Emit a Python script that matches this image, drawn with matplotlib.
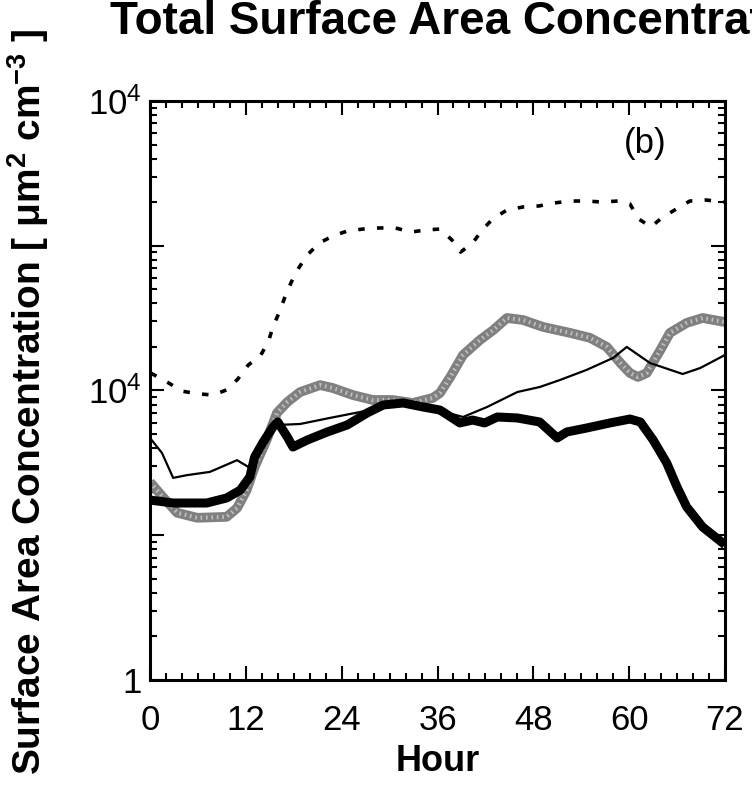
import matplotlib
matplotlib.use("Agg")
import matplotlib.pyplot as plt
from matplotlib.ticker import FixedLocator, FixedFormatter, LogLocator, NullFormatter, MultipleLocator

plt.rcParams["font.family"] = ["Liberation Sans", "DejaVu Sans"]
plt.rcParams["mathtext.fontset"] = "custom"
plt.rcParams["mathtext.rm"] = "Liberation Sans"
plt.rcParams["mathtext.bf"] = "Liberation Sans:bold"
plt.rcParams["mathtext.it"] = "Liberation Sans:italic"

# hours and surface area concentration (um^2 cm^-3) for each run
dotted_hours = [0.1, 2.3, 4.0, 5.9, 7.9, 9.6, 11.0, 12.3, 13.8, 14.8, 15.4, 16.2, 16.9, 17.7,
                18.7, 19.7, 21.2, 22.9, 24.7, 26.7, 28.7, 30.7, 32.7, 34.6, 36.3, 37.8, 38.9,
                40.4, 41.6, 42.9, 44.7, 46.7, 48.7, 50.6, 52.6, 54.6, 56.6, 58.6, 60.1, 61.2,
                62.7, 64.1, 65.9, 67.6, 69.6, 72.0]
dotted_vals = [132, 113, 99, 95, 93, 101, 120, 150, 173, 216, 275, 349, 443, 562,
               713, 863, 1045, 1168, 1264, 1305, 1327, 1327, 1245, 1285, 1305, 1097, 905,
               1045, 1285, 1531, 1766, 1853, 1883, 1974, 2037, 2037, 2005, 2037, 1942, 1531,
               1350, 1556, 1795, 2037, 2070, 2005]

thin_hours = [0.0, 1.5, 2.9, 4.6, 7.5, 10.9, 11.9, 12.5, 13.5, 14.8, 16.0, 18.8, 22.5, 26.3,
              30.1, 33.8, 36.9, 39.2, 42.2, 46.0, 48.8, 51.3, 54.7, 58.0, 59.7, 62.6, 66.7,
              68.9, 72.0]
thin_vals = [47, 37, 24.9, 26, 27.4, 33, 30.6, 29.2, 35.8, 47.7, 57.8, 58.7, 64.6, 71.0,
             79.4, 79.4, 71.0, 65.6, 76.9, 97.6, 105.7, 118, 139, 168, 200, 155, 130,
             143, 176]

thick_hours = [0.0, 2.9, 7.1, 9.6, 11.3, 12.5, 13.1, 14.1, 15.4, 16.0, 17.2, 17.9, 19.7, 22.2,
               24.7, 27.2, 29.2, 31.7, 34.2, 36.3, 36.7, 38.8, 40.4, 41.9, 43.5, 46.0, 48.8,
               51.0, 52.2, 54.7, 57.6, 60.1, 61.4, 63.0, 64.7, 66.0, 67.2, 69.2, 72.0]
thick_vals = [17.5, 16.7, 16.7, 18.1, 20.5, 25.3, 34.7, 43.4, 56, 60.6, 47.7, 40.7, 45.5, 51.7,
              57.8, 70, 79.4, 82, 76.9, 73.3, 71, 59.7, 62.5, 59.7, 65.6, 64.6, 60.6,
              47, 51.7, 55.1, 59.7, 63.5, 60.6, 45.5, 31.6, 21.5, 15.7, 11.4, 8.6]

gray_hours = [0.0, 1.6, 3.4, 5.9, 9.6, 10.9, 12.1, 13.1, 14.6, 15.9, 17.2, 18.8, 21.3, 22.9,
              25.4, 27.9, 30.4, 32.9, 35.4, 36.3, 37.6, 39.2, 41.3, 43.0, 44.7, 46.7, 49.2,
              52.6, 55.1, 57.2, 58.9, 60.1, 61.1, 62.2, 63.9, 65.1, 67.2, 69.2, 72.0]
gray_vals = [23.3, 18.4, 14.3, 13.2, 13.4, 15.4, 20.5, 29.6, 45.5, 70, 83.3, 97.6, 109, 104,
             93, 86, 86, 82, 88.8, 96, 124, 176, 223, 262, 317, 307, 275,
             250, 231, 200, 155, 132, 124, 132, 190, 250, 293, 317, 297]

x_ticks = [0, 12, 24, 36, 48, 60, 72]
y_ticks = [1, 10, 100, 1000, 10000]
y_tick_labels = ["1", "", "10$^4$", "", "10$^4$"]

fig = plt.figure(figsize=(7.52, 7.93), dpi=100)
ax = fig.add_axes([150 / 752, 113 / 793, 575 / 752, 579 / 793])

ax.plot(gray_hours, gray_vals, color="0.5", lw=7.0, solid_capstyle="butt", zorder=2)
ax.plot(gray_hours, gray_vals, color="0.75", lw=3.0, ls=(0, (0.4, 0.9)), zorder=2)
ax.plot(thin_hours, thin_vals, color="black", lw=1.6, zorder=3)
ax.plot(thick_hours, thick_vals, color="black", lw=6.5, solid_capstyle="butt", zorder=4)
ax.plot(dotted_hours, dotted_vals, color="black", lw=2.6, ls=(0, (1.8, 3.4)),
        dash_capstyle="butt", zorder=3)

ax.set_yscale("log")
ax.set_xlim(0, 72)
ax.set_ylim(1, 10000)

ax.xaxis.set_major_locator(FixedLocator(x_ticks))
ax.xaxis.set_minor_locator(MultipleLocator(2))
ax.yaxis.set_major_locator(FixedLocator(y_ticks))
ax.yaxis.set_major_formatter(FixedFormatter(y_tick_labels))
ax.yaxis.set_minor_locator(LogLocator(base=10, subs=range(2, 10)))
ax.yaxis.set_minor_formatter(NullFormatter())

ax.tick_params(which="both", direction="in", top=True, right=True, width=1.5, colors="black")
ax.tick_params(which="major", length=10, labelsize=25)
ax.tick_params(axis="x", which="major", pad=17)
ax.tick_params(axis="y", which="major", pad=6)
ax.tick_params(which="minor", length=5)
for spine in ax.spines.values():
    spine.set_linewidth(2.2)

ax.set_xlabel("Hour", fontsize=26, fontweight="bold", labelpad=5)
ax.text(0.861, 0.927, "(b)", transform=ax.transAxes, fontsize=25, ha="center", va="center")

fig.text(28 / 752, 1 - 402 / 793,
         r"Surface Area Concentration [ μm$^\mathbf{2}$ cm$^\mathbf{-3}$ ]",
         rotation=90, ha="center", va="center", fontsize=28, fontweight="bold")
fig.text(110 / 752, 1 - 34 / 793, "Total Surface Area Concentration",
         ha="left", va="baseline", fontsize=33, fontweight="bold")

fig.savefig("out.png", dpi=100)
